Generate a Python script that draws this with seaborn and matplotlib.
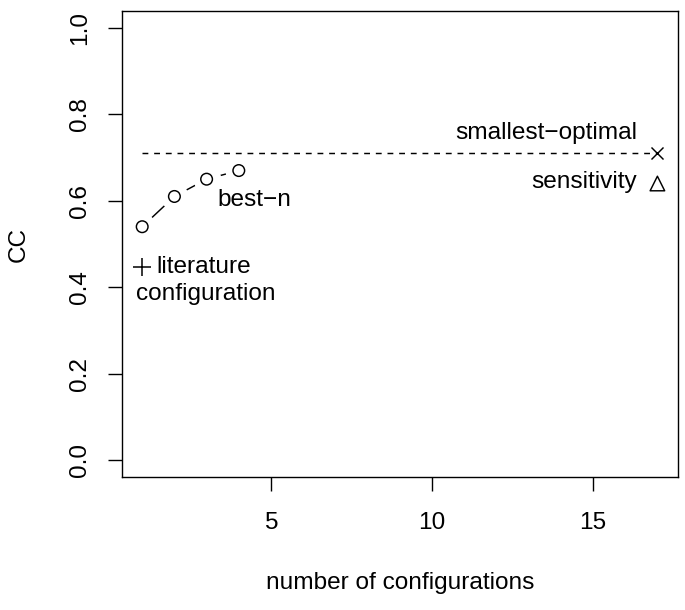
import matplotlib
matplotlib.use("Agg")
import numpy as np
import pandas as pd
import seaborn as sns
import matplotlib.pyplot as plt

# values
best_n_x = [1, 2, 3, 4]
best_n_cc = [0.54, 0.61, 0.65, 0.67]
literature_x = [1]
literature_cc = [0.447]
optimal_x = [17]
optimal_cc = [0.71]
sensitivity_x = [17]
sensitivity_cc = [0.64]
x_ticks = [5, 10, 15]
y_ticks = [0.0, 0.2, 0.4, 0.6, 0.8, 1.0]

sns.set_style("ticks")
plt.rcParams["font.family"] = ["Liberation Sans", "DejaVu Sans"]
plt.rcParams["text.color"] = "black"
plt.rcParams["axes.labelcolor"] = "black"
plt.rcParams["xtick.color"] = "black"
plt.rcParams["ytick.color"] = "black"
fs = 17.6

fig = plt.figure(figsize=(6.85, 6.1), dpi=100)
ax = fig.add_axes([0.1775, 0.2175, 0.8123, 0.765])

best_df = pd.DataFrame({"n": best_n_x, "cc": best_n_cc})

# line with gaps around the points, like R type="b"
sns.lineplot(data=best_df, x="n", y="cc", ax=ax, color="black", lw=1.05,
             zorder=1)
ax.scatter(best_n_x, best_n_cc, s=400, color="white", zorder=2, lw=0)
sns.scatterplot(data=best_df, x="n", y="cc", ax=ax, marker="o", s=70,
                facecolor="none", edgecolor="black", linewidth=1.05, zorder=3)

# smallest-optimal level
ax.hlines(optimal_cc, best_n_x[0], optimal_x[0], colors="black", lw=1.05,
          linestyles=(0, (4, 4)), zorder=1)
sns.scatterplot(x=optimal_x, y=optimal_cc, ax=ax, marker="x", s=75,
                color="black", linewidth=1.05, zorder=3)
sns.scatterplot(x=sensitivity_x, y=sensitivity_cc, ax=ax, marker="^", s=110,
                facecolor="none", edgecolor="black", linewidth=1.05, zorder=3)
sns.scatterplot(x=literature_x, y=literature_cc, ax=ax, marker="+", s=150,
                color="black", linewidth=1.1, zorder=3)

ax.text(4.48, 0.602, "best\u2212n", fontsize=fs, ha="center", va="center")
ax.text(1.45, 0.447, "literature", fontsize=fs, ha="left", va="center")
ax.text(0.8, 0.385, "configuration", fontsize=fs, ha="left", va="center")
ax.text(16.37, 0.757, "smallest\u2212optimal", fontsize=fs, ha="right",
        va="center")
ax.text(16.37, 0.644, "sensitivity", fontsize=fs, ha="right", va="center")

ax.set_xlim(1 - 0.64, 17 + 0.64)
ax.set_ylim(-0.04, 1.04)
ax.set_xticks(x_ticks)
ax.set_yticks(y_ticks)
ax.set_yticklabels([f"{v:.1f}" for v in y_ticks], rotation=90, va="center")
ax.tick_params(axis="both", length=10, width=1.0, labelsize=fs,
               color="black", labelcolor="black")
ax.tick_params(axis="x", pad=15)
ax.tick_params(axis="y", pad=12)
for sp in ax.spines.values():
    sp.set_visible(True)
    sp.set_linewidth(1.0)
    sp.set_color("black")

ax.set_xlabel("number of configurations", fontsize=fs, labelpad=27)
ax.set_ylabel("CC", fontsize=fs, labelpad=28)

fig.savefig("out.png", dpi=100)
